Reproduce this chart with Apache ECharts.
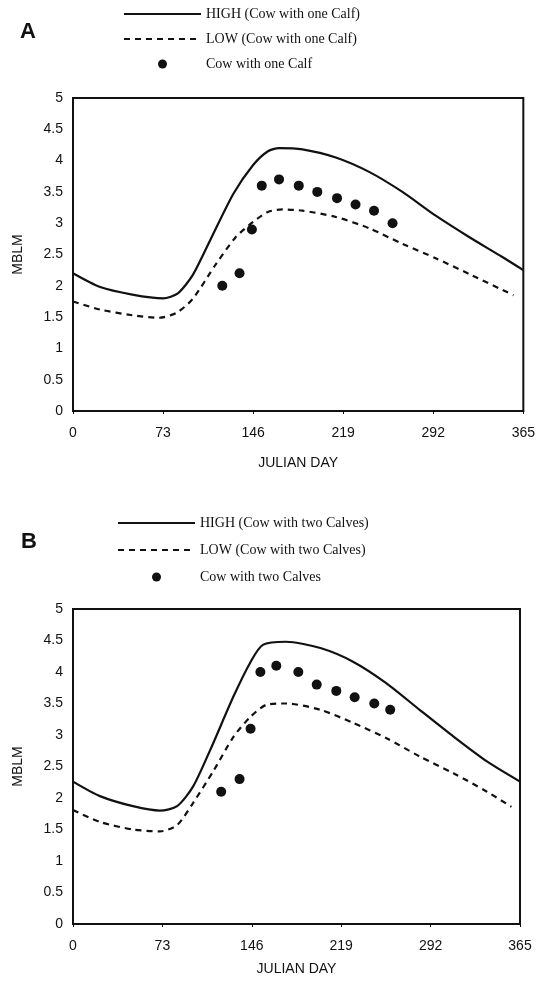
<!DOCTYPE html>
<html>
<head>
<meta charset="utf-8">
<script src="https://cdn.jsdelivr.net/npm/echarts@6/dist/echarts.min.js"></script>
<style>
html,body{margin:0;padding:0;background:#fff;}
#chart{width:538px;height:985px;}
</style>
</head>
<body>
<div id="chart"></div>
<script>
// ---- Data ----
const xTicks = [0, 73, 146, 219, 292, 365];

// Panel A: cow with one calf
const highA_days = [0, 22, 48, 73, 85, 97, 111, 130, 146, 158, 167, 186, 213, 240, 267, 294, 321, 348, 365];
const highA_vals = [2.2, 1.98, 1.86, 1.8, 1.88, 2.17, 2.72, 3.47, 3.93, 4.15, 4.2, 4.18, 4.05, 3.82, 3.5, 3.12, 2.78, 2.46, 2.25];
const lowA_days = [0, 22, 48, 70, 84, 97, 116, 132, 146, 158, 170, 186, 213, 240, 267, 294, 321, 357];
const lowA_vals = [1.75, 1.62, 1.53, 1.49, 1.57, 1.79, 2.35, 2.78, 3.02, 3.18, 3.22, 3.2, 3.1, 2.92, 2.67, 2.44, 2.19, 1.85];
const obsA_days = [121, 135, 145, 153, 167, 183, 198, 214, 229, 244, 259];
const obsA_vals = [2.0, 2.2, 2.9, 3.6, 3.7, 3.6, 3.5, 3.4, 3.3, 3.2, 3.0];

// Panel B: cow with two calves
const highB_days = [0, 22, 49, 71, 85, 98, 112, 131, 145, 155, 174, 202, 229, 256, 283, 311, 338, 365];
const highB_vals = [2.26, 2.03, 1.87, 1.8, 1.87, 2.18, 2.76, 3.61, 4.16, 4.43, 4.48, 4.38, 4.16, 3.82, 3.4, 2.97, 2.58, 2.26];
const lowB_days = [0, 22, 49, 71, 85, 98, 115, 131, 145, 158, 174, 202, 229, 256, 283, 311, 338, 358];
const lowB_vals = [1.81, 1.62, 1.5, 1.47, 1.57, 1.92, 2.44, 2.97, 3.29, 3.48, 3.5, 3.4, 3.19, 2.95, 2.66, 2.39, 2.1, 1.86];
const obsB_days = [121, 136, 145, 153, 166, 184, 199, 215, 230, 246, 259];
const obsB_vals = [2.1, 2.3, 3.1, 4.0, 4.1, 4.0, 3.8, 3.7, 3.6, 3.5, 3.4];

const namesA = ['HIGH (Cow with one Calf)', 'LOW (Cow with one Calf)', 'Cow with one Calf'];
const namesB = ['HIGH (Cow with two Calves)', 'LOW (Cow with two Calves)', 'Cow with two Calves'];

// ---- Build ----
const pair = (xs, ys) => xs.map((x, i) => [x, ys[i]]);
const sans = 'Liberation Sans, Arial, sans-serif';
const serif = 'Liberation Serif, Times New Roman, serif';
const ink = '#111';

function xAxis(gridIndex, gap) {
  return {
    type: 'value', gridIndex, min: 0, max: 365, interval: 73,
    name: 'JULIAN DAY', nameLocation: 'middle', nameGap: gap,
    nameTextStyle: { fontFamily: sans, fontSize: 14, color: ink },
    axisLine: { show: true, lineStyle: { color: ink, width: 2 } },
    axisTick: { show: true, length: 3, lineStyle: { color: ink, width: 1 } },
    axisLabel: { margin: 15, fontFamily: sans, fontSize: 14, color: ink,
      formatter: v => xTicks.includes(v) ? String(v) : '' },
    splitLine: { show: false }
  };
}
function yAxis(gridIndex) {
  return {
    type: 'value', gridIndex, min: 0, max: 5, interval: 0.5,
    name: 'MBLM', nameLocation: 'middle', nameGap: 48,
    nameTextStyle: { fontFamily: sans, fontSize: 14, color: ink },
    axisLine: { show: true, lineStyle: { color: ink, width: 2 } },
    axisTick: { show: false },
    axisLabel: { margin: 10, fontFamily: sans, fontSize: 14, color: ink },
    splitLine: { show: false }
  };
}
function legend(names, left, top, gap) {
  const hide = { color: 'rgba(0,0,0,0)', opacity: 0, borderWidth: 0 };
  return {
    data: [
      { name: names[0], itemStyle: hide },
      { name: names[1], itemStyle: hide },
      { name: names[2] }
    ],
    orient: 'vertical', left, top, padding: 0,
    itemWidth: 77, itemHeight: 9, itemGap: gap,
    selectedMode: false,
    textStyle: { fontFamily: serif, fontSize: 14, color: ink }
  };
}
function lineSeries(name, data, idx, dashed) {
  return {
    name, type: 'line', xAxisIndex: idx, yAxisIndex: idx, data,
    smooth: 0.25, showSymbol: false, symbol: 'none',
    lineStyle: { color: ink, width: 2.2, type: dashed ? [6, 5] : 'solid' },
    itemStyle: { color: ink },
    z: 2
  };
}
function scatterSeries(name, data, idx) {
  return {
    name, type: 'scatter', xAxisIndex: idx, yAxisIndex: idx, data,
    symbol: 'circle', symbolSize: 10,
    itemStyle: { color: ink, opacity: 1 }, z: 3
  };
}

const option = {
  backgroundColor: '#fff',
  animation: false,
  grid: [
    { left: 73, top: 98, width: 452, height: 313, show: true, borderColor: ink, borderWidth: 2, backgroundColor: 'transparent' },
    { left: 73, top: 609, width: 447, height: 315, show: true, borderColor: ink, borderWidth: 2, backgroundColor: 'transparent' }
  ],
  xAxis: [xAxis(0, 45), xAxis(1, 38)],
  yAxis: [yAxis(0), yAxis(1)],
  legend: [legend(namesA, 123, 7, 11), legend(namesB, 117, 516, 13)],
  title: [
    { text: 'A', left: 15, top: 16, textStyle: { fontFamily: sans, fontSize: 22, fontWeight: 'bold', color: ink } },
    { text: 'B', left: 16, top: 526, textStyle: { fontFamily: sans, fontSize: 22, fontWeight: 'bold', color: ink } }
  ],
  series: [
    lineSeries(namesA[0], pair(highA_days, highA_vals), 0, false),
    lineSeries(namesA[1], pair(lowA_days, lowA_vals), 0, true),
    scatterSeries(namesA[2], pair(obsA_days, obsA_vals), 0),
    lineSeries(namesB[0], pair(highB_days, highB_vals), 1, false),
    lineSeries(namesB[1], pair(lowB_days, lowB_vals), 1, true),
    scatterSeries(namesB[2], pair(obsB_days, obsB_vals), 1)
  ]
};

const chart = echarts.init(document.getElementById('chart'), null, { renderer: 'canvas' });
chart.setOption(option);
</script>
</body>
</html>
